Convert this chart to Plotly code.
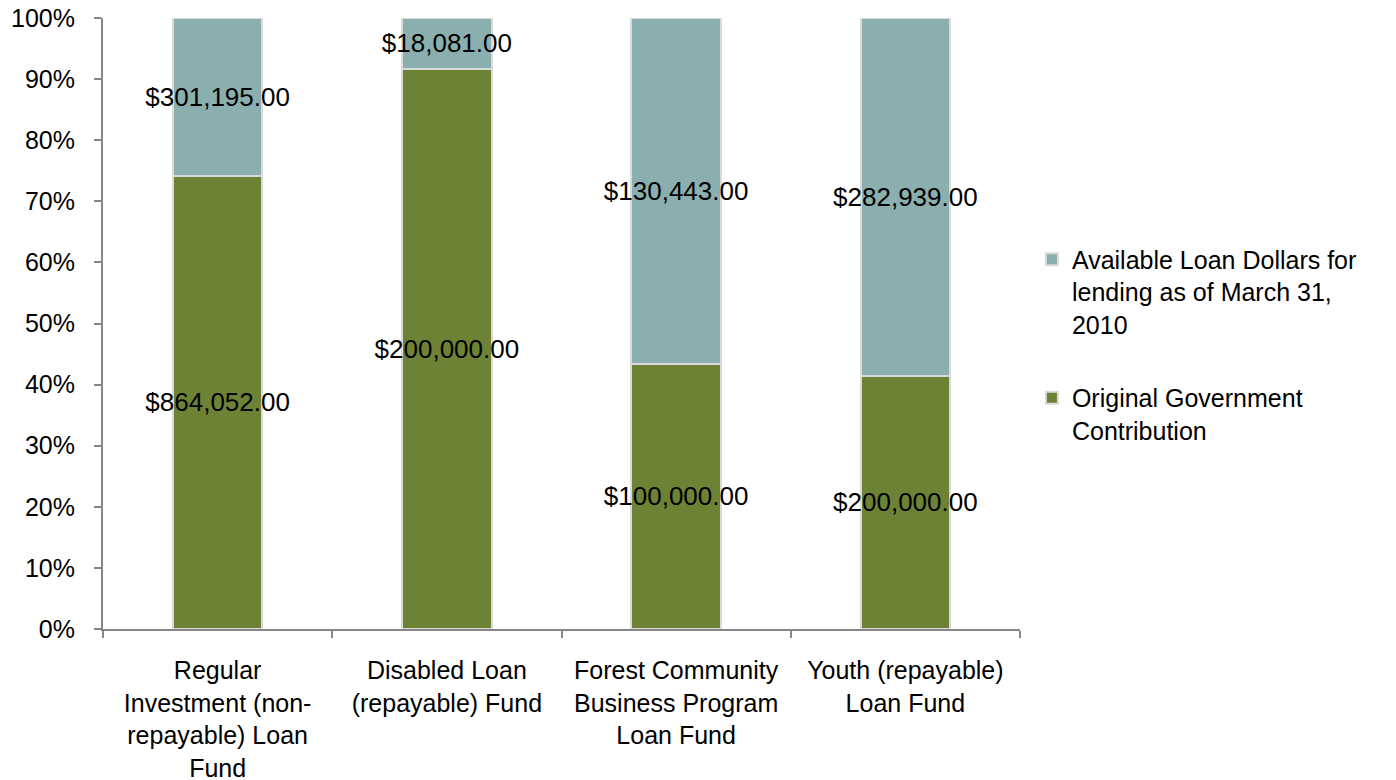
import plotly.graph_objects as go

categories = [
    "Regular<br>Investment (non-<br>repayable) Loan<br>Fund",
    "Disabled Loan<br>(repayable) Fund",
    "Forest Community<br>Business Program<br>Loan Fund",
    "Youth (repayable)<br>Loan Fund",
]
government = [864052, 200000, 100000, 200000]
available = [301195, 18081, 130443, 282939]

green = "#6E8235"
teal = "#8AAFAE"
font = "Liberation Sans, Arial, sans-serif"

def money(v):
    return f"${v:,.2f}"

fig = go.Figure()
fig.add_trace(go.Bar(
    x=categories, y=government, name="Original Government<br>Contribution",
    marker=dict(color=green, line=dict(color="#DADADA", width=2)),
    text=[money(v) for v in government], legendgroup="g", legendrank=2,
))
fig.add_trace(go.Bar(
    x=categories, y=available,
    name="Available Loan Dollars for<br>lending as of March 31,<br>2010",
    marker=dict(color=teal, line=dict(color="#DADADA", width=2)),
    text=[money(v) for v in available], legendgroup="a", legendrank=1,
))
fig.update_traces(textposition="inside", insidetextanchor="middle",
                  constraintext="none", textangle=0,
                  textfont=dict(size=26, color="black", family=font),
                  hoverinfo="skip")

fig.update_layout(
    barmode="stack", barnorm="percent", bargap=0.61,
    width=1396, height=780,
    margin=dict(l=103, r=376, t=18, b=151, autoexpand=False),
    paper_bgcolor="white", plot_bgcolor="white",
    font=dict(family=font, size=25, color="black"),
    showlegend=True,
    legend=dict(x=1.013, y=0.465, yanchor="middle", xanchor="left",
                traceorder="grouped", tracegroupgap=38,
                valign="top", font=dict(size=25), itemwidth=30),
    yaxis=dict(range=[0, 100], dtick=10, ticksuffix="%", showgrid=False,
               showline=True, linecolor="#868686", linewidth=2,
               ticks="outside", ticklen=7, tickcolor="#868686", tickwidth=2,
               automargin=False, ticklabelstandoff=14),
    xaxis=dict(showline=True, linecolor="#868686", linewidth=2,
               ticks="outside", tickson="boundaries", ticklen=7,
               tickcolor="#868686", tickwidth=2,
               automargin=False, ticklabelstandoff=18),
)

# drop the default 8px page margin so the figure fills the window exactly
fig.write_html("out.html", config={"displayModeBar": False},
               post_script="document.body.style.margin='0';")
